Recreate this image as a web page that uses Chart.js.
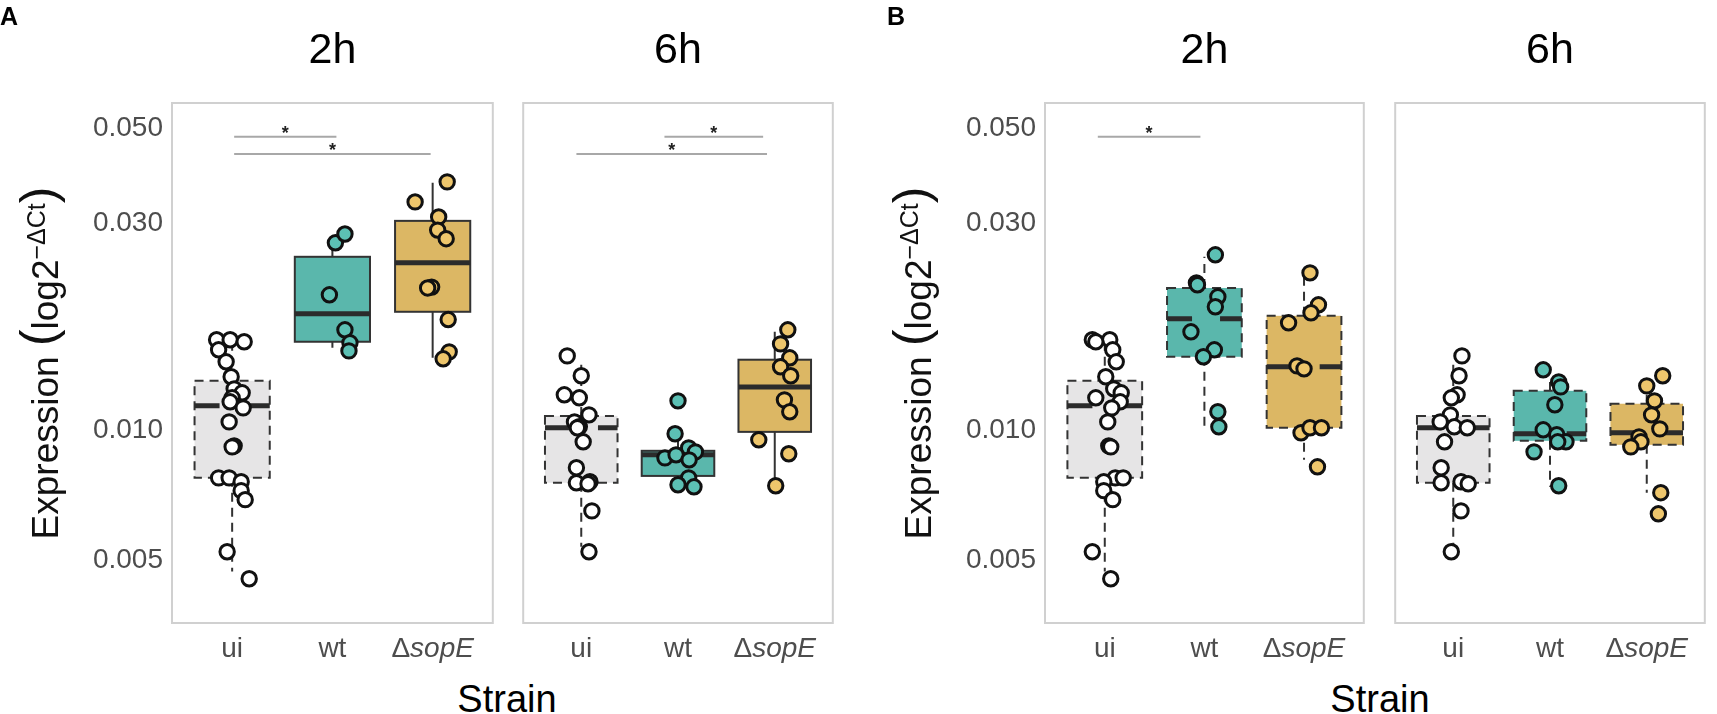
<!DOCTYPE html>
<html lang="en">
<head>
    <meta charset="UTF-8">
    <title>Expression by strain</title>
    <style>
        body {
            margin: 0;
            padding: 0;
            background-color: #fff;
            width: 1717px;
            height: 714px;
            overflow: hidden;
            position: relative;
            font-family: "Liberation Sans", Arial, sans-serif;
        }

        .facet {
            position: absolute;
            top: 0;
            height: 668px;
        }

        .xTitle {
            position: absolute;
            top: 679px;
            width: 200px;
            line-height: 40px;
            font-size: 38px;
            text-align: center;
            color: #000;
        }
    </style>
    <script src="https://cdn.jsdelivr.net/npm/chart.js"></script>
</head>
<body>

<div class="facet" id="wrapA2h" style="left:0px; width:503px;"><canvas id="fA2h"></canvas></div>
<div class="facet" id="wrapA6h" style="left:513px; width:330px;"><canvas id="fA6h"></canvas></div>
<div class="facet" id="wrapB2h" style="left:873px; width:501px;"><canvas id="fB2h"></canvas></div>
<div class="facet" id="wrapB6h" style="left:1385px; width:330px;"><canvas id="fB6h"></canvas></div>

<div class="xTitle" style="left:407px;">Strain</div>
<div class="xTitle" style="left:1280px;">Strain</div>

<script>
    // categories and axis
    const strains = ['ui', 'wt', 'sopE'];
    const timeLabels = ['2h', '6h', '2h', '6h'];
    const yTicks = [0.005, 0.010, 0.030, 0.050];
    const yMin = 0.00357;
    const yMax = 0.0571;

    // box stats per strain: [lower whisker, q1, median, q3, upper whisker]
    const boxA2h = [[0.0047, 0.00774, 0.01137, 0.01298, 0.0162],
                    [0.01549, 0.01599, 0.01856, 0.02515, 0.0264],
                    [0.01468, 0.01876, 0.02435, 0.03046, 0.03731]];
    const boxA6h = [[0.00536, 0.00754, 0.01011, 0.01077, 0.01414],
                    [0.0074, 0.00782, 0.00875, 0.00894, 0.0098],
                    [0.00738, 0.00989, 0.01257, 0.01453, 0.01686]];
    const boxB2h = [[0.0047, 0.00774, 0.01137, 0.01298, 0.0162],
                    [0.01016, 0.01476, 0.01807, 0.0213, 0.02515],
                    [0.00852, 0.01011, 0.01399, 0.01836, 0.02273]];
    const boxB6h = [[0.00536, 0.00754, 0.01011, 0.01077, 0.01414],
                    [0.00738, 0.00943, 0.00979, 0.01231, 0.01291],
                    [0.00715, 0.00923, 0.00984, 0.01149, 0.01251]];

    // dashed boxes
    const dashA = [true, false, false];
    const dashB = [true, true, true];

    // individual samples (uninfected controls shared by A and B)
    const ui2hValues = [0.01616, 0.01616, 0.01599, 0.01532, 0.01437, 0.01327, 0.01244, 0.01218, 0.01186, 0.01161, 0.01124,
                        0.01043, 0.00918, 0.00913, 0.00774, 0.00774, 0.00758, 0.00723, 0.00689, 0.00522, 0.00452];
    const uiA2hJitter = [-0.155, -0.02, 0.12, -0.135, -0.06, -0.01, 0.02, 0.10, 0.0, -0.02, 0.11,
                         -0.03, 0.02, 0.0, -0.135, -0.03, 0.09, 0.09, 0.13, -0.05, 0.17];
    const uiB2hJitter = [-0.125, 0.05, -0.09, 0.08, 0.115, 0.01, 0.09, 0.165, -0.09, 0.155, 0.07,
                         0.03, 0.04, 0.06, 0.105, 0.185, -0.01, -0.01, 0.08, -0.125, 0.06];

    const ui6hValues = [0.01483, 0.01334, 0.01205, 0.01186, 0.01083, 0.01043, 0.01016, 0.01011,
                        0.00938, 0.00817, 0.00758, 0.00754, 0.00750, 0.00649, 0.00522];
    const uiA6hJitter = [-0.145, 0.0, -0.175, -0.02, 0.08, -0.07, -0.02, -0.04,
                         0.02, -0.05, 0.09, -0.05, 0.07, 0.11, 0.08];
    const uiB6hJitter = [0.09, 0.06, 0.04, -0.02, -0.03, -0.135, 0.01, 0.145,
                         -0.09, -0.125, 0.08, -0.125, 0.155, 0.08, -0.02];

    const wtA2hValues = [0.0271, 0.0284, 0.02054, 0.01704, 0.0159, 0.01523];
    const wtA2hJitter = [0.03, 0.125, -0.03, 0.125, 0.175, 0.165];
    const sopEA2hValues = [0.0375, 0.0337, 0.0311, 0.0290, 0.0277, 0.0214, 0.0213, 0.0180, 0.01515, 0.0146];
    const sopEA2hJitter = [0.145, -0.175, 0.06, 0.05, 0.135, -0.01, -0.05, 0.155, 0.165, 0.105];

    const wtA6hValues = [0.01167, 0.00979, 0.00908, 0.00889, 0.00861, 0.00875, 0.00852, 0.00774, 0.00746, 0.00738];
    const wtA6hJitter = [0.0, -0.03, 0.11, 0.18, -0.135, -0.02, 0.115, 0.11, 0.0, 0.165];
    const sopEA6hValues = [0.01704, 0.01581, 0.01468, 0.01399, 0.01334, 0.01173, 0.01101, 0.00948, 0.0088, 0.00742];
    const sopEA6hJitter = [0.135, 0.06, 0.155, 0.06, 0.165, 0.1, 0.155, -0.165, 0.145, 0.01];

    const wtB2hValues = [0.02542, 0.02189, 0.02166, 0.02032, 0.01927, 0.01686, 0.01532, 0.01476, 0.01101, 0.01016];
    const wtB2hJitter = [0.11, -0.08, -0.07, 0.135, 0.11, -0.135, 0.10, -0.01, 0.135, 0.145];
    const sopEB2hValues = [0.02309, 0.01947, 0.01866, 0.01769, 0.01406, 0.01384, 0.00984, 0.01011, 0.01011, 0.00821];
    const sopEB2hJitter = [0.06, 0.145, 0.07, -0.155, -0.07, 0.0, -0.03, 0.06, 0.175, 0.135];

    const wtB6hValues = [0.01377, 0.01291, 0.01257, 0.01143, 0.0100, 0.00974, 0.00938, 0.00938, 0.00889, 0.00742];
    const wtB6hJitter = [-0.07, 0.09, 0.11, 0.05, -0.07, 0.07, 0.165, 0.08, -0.165, 0.09];
    const sopEB6hValues = [0.01334, 0.01264, 0.01167, 0.01083, 0.01005, 0.00963, 0.00938, 0.00913, 0.00715, 0.00639];
    const sopEB6hJitter = [0.165, 0.0, 0.08, 0.05, 0.135, -0.08, -0.06, -0.165, 0.145, 0.12];

    // significance brackets: [from, to, level]
    const sigA2h = [[1.02, 2.04, 0.0477], [1.02, 2.98, 0.0435]];
    const sigA6h = [[1.86, 2.88, 0.0477], [0.95, 2.92, 0.0435]];
    const sigB2h = [[0.93, 1.96, 0.0477]];
    const sigB6h = [];

    const boxFill = ['#e6e5e6', '#5ab7ac', '#dcb764'];
    const pointFill = ['#ffffff', '#5cc0b4', '#eec66c'];
    const FONT = '"Liberation Sans", Arial, sans-serif';

    function drawYTitle(ctx) {
        const parts = [
            ['Expression ', '37px ' + FONT, 0],
            ['(', '50px ' + FONT, -3],
            ['log2', '37px ' + FONT, 0],
            ['\u2212\u0394Ct', '25px ' + FONT, -13],
            [')', '50px ' + FONT, -3]
        ];
        let total = 0;
        parts.forEach(function (p) {
            ctx.font = p[1];
            p.push(ctx.measureText(p[0]).width);
            total += p[3];
        });
        ctx.save();
        ctx.translate(58, 363);
        ctx.rotate(-Math.PI / 2);
        ctx.fillStyle = '#111';
        ctx.textAlign = 'left';
        ctx.textBaseline = 'alphabetic';
        let x = -total / 2;
        parts.forEach(function (p) {
            ctx.font = p[1];
            ctx.fillText(p[0], x, p[2]);
            x += p[3];
        });
        ctx.restore();
    }

    const facetPlugin = {
        id: 'facet',
        beforeDatasetsDraw(chart, args, opts) {
            const ctx = chart.ctx;
            const xs = chart.scales.x;
            const ys = chart.scales.y;
            ctx.save();
            opts.box.forEach(function (b, i) {
                const cx = xs.getPixelForValue(i + 1);
                const hw = xs.getPixelForValue(i + 1.375) - cx;
                const yLo = ys.getPixelForValue(b[0]);
                const yQ1 = ys.getPixelForValue(b[1]);
                const yMed = ys.getPixelForValue(b[2]);
                const yQ3 = ys.getPixelForValue(b[3]);
                const yHi = ys.getPixelForValue(b[4]);
                const dashed = opts.dashed[i];

                ctx.strokeStyle = '#333';
                ctx.lineWidth = 2;
                ctx.setLineDash(dashed ? [9, 6] : []);
                ctx.beginPath();
                ctx.moveTo(cx, yQ3);
                ctx.lineTo(cx, yHi);
                ctx.moveTo(cx, yQ1);
                ctx.lineTo(cx, yLo);
                ctx.stroke();

                ctx.fillStyle = boxFill[i];
                ctx.fillRect(cx - hw, yQ3, hw * 2, yQ1 - yQ3);
                ctx.strokeRect(cx - hw, yQ3, hw * 2, yQ1 - yQ3);

                ctx.strokeStyle = '#2b2b2b';
                ctx.lineWidth = 5;
                ctx.setLineDash(dashed ? [25, 28] : []);
                ctx.beginPath();
                ctx.moveTo(cx - hw, yMed);
                ctx.lineTo(cx + hw, yMed);
                ctx.stroke();
            });

            ctx.setLineDash([]);
            opts.sig.forEach(function (s) {
                const x1 = xs.getPixelForValue(s[0]);
                const x2 = xs.getPixelForValue(s[1]);
                const yy = ys.getPixelForValue(s[2]);
                ctx.strokeStyle = '#a8a8a8';
                ctx.lineWidth = 2;
                ctx.beginPath();
                ctx.moveTo(x1, yy);
                ctx.lineTo(x2, yy);
                ctx.stroke();
                ctx.fillStyle = '#222';
                ctx.font = 'bold 18px ' + FONT;
                ctx.textAlign = 'center';
                ctx.textBaseline = 'alphabetic';
                ctx.fillText('*', (x1 + x2) / 2, yy + 2);
            });
            ctx.restore();
        },
        afterDraw(chart, args, opts) {
            const ctx = chart.ctx;
            const area = chart.chartArea;
            const xs = chart.scales.x;
            ctx.save();

            // panel border
            ctx.strokeStyle = '#d0d0d0';
            ctx.lineWidth = 2;
            ctx.strokeRect(area.left, area.top, area.right - area.left, area.bottom - area.top);

            // facet title
            ctx.fillStyle = '#000';
            ctx.font = '43px ' + FONT;
            ctx.textAlign = 'center';
            ctx.textBaseline = 'alphabetic';
            ctx.fillText(opts.title, (area.left + area.right) / 2, 63);

            // strain labels
            ctx.fillStyle = '#4d4d4d';
            strains.forEach(function (s, i) {
                const cx = xs.getPixelForValue(i + 1);
                if (s === 'sopE') {
                    ctx.font = '28px ' + FONT;
                    const wd = ctx.measureText('\u0394').width;
                    ctx.font = 'italic 28px ' + FONT;
                    const ws = ctx.measureText(s).width;
                    const x0 = cx - (wd + ws) / 2;
                    ctx.textAlign = 'left';
                    ctx.font = '28px ' + FONT;
                    ctx.fillText('\u0394', x0, 657);
                    ctx.font = 'italic 28px ' + FONT;
                    ctx.fillText(s, x0 + wd, 657);
                } else {
                    ctx.textAlign = 'center';
                    ctx.font = '28px ' + FONT;
                    ctx.fillText(s, cx, 657);
                }
            });

            if (opts.letter) {
                ctx.fillStyle = '#000';
                ctx.font = 'bold 25px ' + FONT;
                ctx.textAlign = 'left';
                ctx.fillText(opts.letter, opts.letterX, 25);
                drawYTitle(ctx);
            }
            ctx.restore();
        }
    };

    function makeFacet(canvasId, cfg) {
        const datasets = cfg.groups.map(function (g, i) {
            return {
                label: strains[i],
                data: g[0].map(function (v, k) { return { x: i + 1 + g[1][k], y: v }; }),
                pointStyle: 'circle',
                pointRadius: 7.2,
                pointHoverRadius: 7.2,
                borderWidth: 3,
                borderColor: '#111',
                backgroundColor: pointFill[i]
            };
        });

        return new Chart(document.getElementById(canvasId), {
            type: 'scatter',
            data: { datasets: datasets },
            options: {
                responsive: true,
                maintainAspectRatio: false,
                animation: false,
                layout: { padding: { left: cfg.showY ? 62 : 0, top: 103, bottom: 45, right: 0 } },
                plugins: {
                    legend: { display: false },
                    tooltip: { enabled: false },
                    facet: {
                        box: cfg.box,
                        dashed: cfg.dashed,
                        sig: cfg.sig,
                        title: cfg.title,
                        letter: cfg.letter,
                        letterX: cfg.letterX
                    }
                },
                scales: {
                    x: { type: 'linear', min: 0.4, max: 3.6, display: false },
                    y: {
                        type: 'logarithmic',
                        min: yMin,
                        max: yMax,
                        bounds: 'data',
                        display: cfg.showY,
                        afterBuildTicks: function (scale) {
                            scale.ticks = yTicks.map(function (v) { return { value: v }; });
                        },
                        afterFit: function (scale) {
                            if (cfg.showY) {
                                scale.width = 110;
                            }
                        },
                        grid: { display: false, drawTicks: false },
                        border: { display: false },
                        ticks: {
                            autoSkip: false,
                            padding: 9,
                            color: '#4d4d4d',
                            font: { family: FONT, size: 28 },
                            callback: function (v) { return Number(v).toFixed(3); }
                        }
                    }
                }
            },
            plugins: [facetPlugin]
        });
    }

    makeFacet('fA2h', {
        title: timeLabels[0], showY: true, letter: 'A', letterX: 0,
        box: boxA2h, dashed: dashA, sig: sigA2h,
        groups: [[ui2hValues, uiA2hJitter], [wtA2hValues, wtA2hJitter], [sopEA2hValues, sopEA2hJitter]]
    });
    makeFacet('fA6h', {
        title: timeLabels[1], showY: false,
        box: boxA6h, dashed: dashA, sig: sigA6h,
        groups: [[ui6hValues, uiA6hJitter], [wtA6hValues, wtA6hJitter], [sopEA6hValues, sopEA6hJitter]]
    });
    makeFacet('fB2h', {
        title: timeLabels[2], showY: true, letter: 'B', letterX: 14,
        box: boxB2h, dashed: dashB, sig: sigB2h,
        groups: [[ui2hValues, uiB2hJitter], [wtB2hValues, wtB2hJitter], [sopEB2hValues, sopEB2hJitter]]
    });
    makeFacet('fB6h', {
        title: timeLabels[3], showY: false,
        box: boxB6h, dashed: dashB, sig: sigB6h,
        groups: [[ui6hValues, uiB6hJitter], [wtB6hValues, wtB6hJitter], [sopEB6hValues, sopEB6hJitter]]
    });
</script>

</body>
</html>
